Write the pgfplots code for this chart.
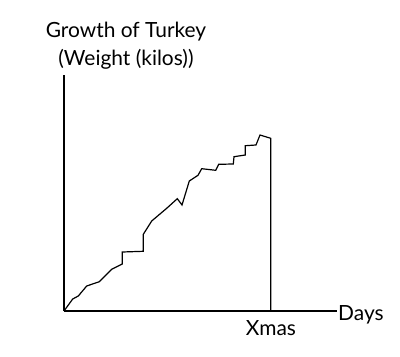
\documentclass[border=0pt]{standalone}
\usepackage{pgfplots}
\pgfplotsset{compat=1.18}
\usepackage{fontspec}
\setmainfont{Lato}
\begin{document}
\begin{tikzpicture}
\begin{axis}[name=ax,
  scale only axis, width=273bp, height=236bp,
  xmin=64, xmax=337, ymin=46, ymax=282,
  axis x line=bottom, axis y line=left,
  axis line style={-, line width=1.4bp, black},
  xtick=\empty, ytick=\empty,
  clip=false]
\addplot[black, line width=1.2bp, line join=miter] coordinates {
(64,46) (72.7,58) (78.3,61) (86.7,71) (99.3,75.3) (111.7,87.7) (122.3,93)
(122.3,105) (143.3,105.7) (143.3,122.7) (151.7,136) (166.7,148.7) (177.3,158.3)
(182,152) (189.3,176) (198,181.7) (201.7,188.3) (215.7,186.7) (218.7,192.7)
(233.3,193) (234,200.3) (245.3,202) (245.3,211.3) (256,212) (260,222)
(270.7,218.7) (270.7,46)
};
\node[font=\fontsize{21}{25}\selectfont, anchor=base, inner sep=0pt] at (axis cs:126,320) {Growth of Turkey};
\node[font=\fontsize{21}{25}\selectfont, anchor=base, inner sep=0pt] at (axis cs:126,292) {(Weight (kilos))};
\node[font=\fontsize{21}{25}\selectfont, anchor=base, inner sep=0pt] at (axis cs:271,22) {Xmas};
\node[font=\fontsize{21}{25}\selectfont, anchor=base west, inner sep=0pt] at (axis cs:338,37) {Days};
\end{axis}
\path[use as bounding box] ([shift={(-64bp,-46bp)}]ax.south west) rectangle ([shift={(336bp,311bp)}]ax.south west);
\end{tikzpicture}
\end{document}
